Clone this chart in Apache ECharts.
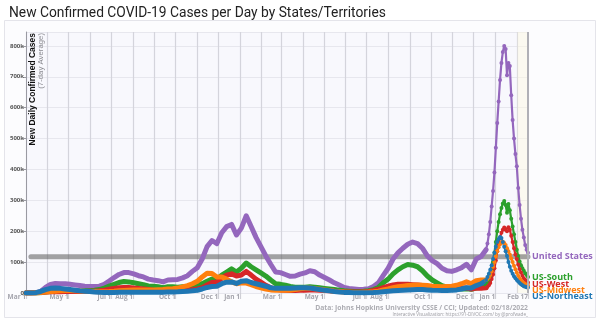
<!DOCTYPE html>
<html><head><meta charset="utf-8">
<script src="https://cdn.jsdelivr.net/npm/echarts@6/dist/echarts.min.js"></script>
<style>html,body{margin:0;padding:0;background:#fff}#c{width:600px;height:322px}</style>
</head><body><div id="c"></div>
<script>
// ---- data (thousands of cases, 7-day average) ----
// weekly samples: every 7 days from 2020-03-01 to 2021-12-19 (95 points)
const usWeekly = [0,0.1,0.5,5,18, 28,31,30,30, 28,26,24,22,21, 21,22,28,39, 50,60,66,66, 62,56,52,45,42, 40,36,42,43, 44,49,56,70, 82,110,150,170,160, 195,215,222,188,
  210,250,215,180,150, 120,93,68,66, 60,54,55,61, 65,72,69,58, 50,42,33,26,18, 15,13,11,12, 14,21,33,57, 80,110,130,145,158, 165,160,145,120, 105,95,80,72,70, 75,82,93,75, 110,118,140];
const southWeekly = [0,0,0.1,0.8,3, 5,6,6,6, 6,6,6,7,7.5, 9,11,16,22, 28,34,37,36, 33,30,27,23,22, 20,17,20,20, 19,20,21,24, 25,30,38,45,43, 58,68,78,68,
  80,97,85,75,65, 55,42,30,28, 25,21,19,19, 19,20,19,17, 15,13,11,9,7, 6,5,5,6, 7.5,11,18,33, 45,62,75,85,92, 90,85,72,55, 42,33,24,19,16, 14,13,14,12, 17,18,24];
const westWeekly = [0,0.1,0.5,1.5,3, 4,4,4,4.5, 4.5,4.5,4.5,5,5.5, 6,7,9,12, 15,17,18,18, 16,15,13,11,9, 8,7,7.5,7.5, 8,8.5,9.5,11, 13,17,26,34,36, 48,58,62,55,
  58,70,58,45,35, 25,17,12,10, 9,8,8,8.5, 9,9.5,9.5,9, 8,7,6,5,4, 3.5,3,3,3.5, 5,8,12,17, 22,26,28,28,28, 27,26,24,22, 19,17,16,15,15, 15,16,16,13, 16,15,17];
const midwestWeekly = [0,0,0.2,1.2,3.5, 5,6,7,8, 8,7.5,6.5,5.5,5, 4.5,4,4,4.5, 5.5,7,8,9, 9.5,9.5,9.5,9.5,10, 10.5,11,13,14, 16,20,24,30, 38,52,64,63,52, 52,45,36,30,
  33,32,27,21,17, 13,10,8.5,8.5, 8.5,9,11,14, 15,16,14,12, 10,8,6,4.5,3, 2.5,2,2,2.5, 3,4,6,10, 13,17,20,22,24, 25,26,25,24, 22,21,20,21,22, 25,30,36,30, 40,42,42];
const northeastWeekly = [0,0.1,1,5,11, 15,16,15,13, 11,9,7,6,5, 3.5,2.5,2,2, 2,2.2,2.5,2.5, 2.5,2.5,2.5,2.5,2.5, 2.5,2.8,3,3.5, 4,5,6,7, 9,13,18,21,22, 30,35,36,31,
  38,40,34,30,26, 22,17,15,15, 15,15,16,17, 17,16,14,11, 9,7,5,3.5,2, 1.5,1,0.8,0.8, 1,1.5,2.5,4, 5.5,7,8,9,10, 10.5,11,11,10, 9,8.5,8,8,9, 10,13,17,16, 24,30,40];
// recent samples: every 2 days from 2021-12-19 to 2022-02-17 (31 points)
const usTail = [140,160,190,230,280,330,390,470,550,620,690,745,780,800,790,705,745,735,640,560,500,450,410,340,285,240,205,180,155,140,130];
const southTail = [24,30,40,55,75,100,130,165,200,230,255,275,290,298,285,260,288,268,240,215,190,165,140,120,102,90,80,72,64,58,52];
const westTail = [17,20,25,32,45,60,80,105,135,160,180,195,205,212,205,200,213,205,185,165,145,125,110,92,78,66,56,48,42,38,34];
const midwestTail = [42,45,50,58,70,85,100,118,135,148,158,164,166,162,155,145,135,125,112,100,88,77,66,56,48,41,36,32,29,26,24];
const northeastTail = [42,52,62,75,90,110,130,150,165,175,181,178,165,150,135,120,100,85,72,62,54,48,42,37,32,28,25,22,20,19,18];
const seriesNames = ['United States','US-South','US-West','US-Midwest','US-Northeast'];
const refLineValue = 117;
const refLineDates = ['2020-03-08','2022-02-17'];
const labelDates = ['2020-03-01','2020-05-01','2020-07-01','2020-08-01','2020-10-01','2020-12-01','2021-01-01','2021-03-01','2021-05-01','2021-07-01','2021-08-01','2021-10-01','2021-12-01','2022-01-01','2022-02-17'];
const labelTexts = ['Mar 1','May 1','Jul 1','Aug 1','Oct 1','Dec 1','Jan 1','Mar 1','May 1','Jul 1','Aug 1','Oct 1','Dec 1','Jan 1','Feb 17'];

// ---- build ----
const DAY = 864e5;
function fmt(t){ return new Date(t).toISOString().slice(0,10); }
const startT = Date.UTC(2020,2,1), endT = Date.UTC(2022,1,17);
const dayCats = [];
for (let t = startT; t <= endT; t += DAY) dayCats.push(fmt(t));
const weekDates = []; for (let i = 0; i < usWeekly.length; i++) weekDates.push(fmt(startT + i*7*DAY));
const tailDates = []; for (let i = 0; i < usTail.length; i++) tailDates.push(fmt(Date.UTC(2021,11,19) + i*2*DAY));
const labelMap = {}; labelDates.forEach((d,i)=>labelMap[d]=labelTexts[i]);

const colors = ['#9467bd','#2ca02c','#d62728','#ff7f0e','#1f77b4'];
const weeklies = [usWeekly, southWeekly, westWeekly, midwestWeekly, northeastWeekly];
const tails = [usTail, southTail, westTail, midwestTail, northeastTail];
const labelDy = [4, 0, 1.5, 5, 9];

const series = [{
  type:'line', silent:true, symbol:'none', animation:false,
  data: refLineDates.map(d=>[d, refLineValue]),
  lineStyle:{color:'rgba(90,90,90,0.55)', width:5, cap:'round'},
  markLine:{silent:true, symbol:'none', label:{show:false}, lineStyle:{color:'#b0b0b6', width:2, type:'solid'},
    data:[{xAxis:'2022-02-17'}]},
  markArea:{silent:true, itemStyle:{color:'rgba(255,250,225,0.45)'}, data:[[{xAxis:'2022-02-02'},{xAxis:'2022-02-17'}]]}
}];
seriesNames.forEach((name, k)=>{
  series.push({
    type:'line', name, symbol:'none', animation:false,
    data: weekDates.map((d,i)=>[d, weeklies[k][i]]),
    lineStyle:{color:colors[k], width:5, join:'round', cap:'round'},
    itemStyle:{color:colors[k]}
  });
  series.push({
    type:'line', name, symbol:'circle', symbolSize:4, showSymbol:true, showAllSymbol:true, animation:false,
    data: tailDates.map((d,i)=>[d, tails[k][i]]),
    lineStyle:{color:colors[k], width:2.2, join:'round'},
    itemStyle:{color:colors[k]},
    endLabel:{show:true, formatter:name, color:colors[k], fontWeight:'bold', fontSize:9,
      fontFamily:'Open Sans', distance:4, offset:[0, labelDy[k]]}
  });
});

const chart = echarts.init(document.getElementById('c'));
chart.setOption({
  animation:false,
  backgroundColor:'#ffffff',
  title:{text:'New Confirmed COVID-19 Cases per Day by States/Territories', left:4, top:2,
    textStyle:{fontSize:13.8, fontWeight:'normal', color:'#222', fontFamily:'Roboto'}},
  grid:{left:26, right:72, top:32, bottom:29, show:true, backgroundColor:'#f8f8fd', borderWidth:0},
  xAxis:{type:'category', data:dayCats, boundaryGap:false,
    axisLine:{show:false},
    axisTick:{show:true, length:6, lineStyle:{color:'#cfcfd6', width:1.2},
      interval:(i,v)=>labelMap[v]!==undefined},
    axisLabel:{show:true, interval:(i,v)=>labelMap[v]!==undefined, formatter:v=>labelMap[v]||'',
      align:'right', margin:1, fontSize:6.5, color:'#a5a5ad', fontWeight:'bold', fontFamily:'Open Sans'},
    splitLine:{show:true, interval:(i,v)=>v.slice(8)==='01', lineStyle:{color:'#d4d4dc', width:1.2}}
  },
  yAxis:{type:'value', min:0, max:845, interval:100,
    axisLine:{show:true, lineStyle:{color:'#9a9aa2', width:1}},
    axisTick:{show:true, length:3, lineStyle:{color:'#9a9aa2'}},
    axisLabel:{fontSize:6, color:'#555', margin:2, showMaxLabel:false, fontFamily:'Open Sans', fontWeight:'bold',
      formatter:v=> v===0 ? '0' : v + 'k'},
    splitLine:{show:true, lineStyle:{color:'#e7e7ee', width:1}}
  },
  graphic:[
    {type:'rect', z:-10, shape:{x:4.5, y:20.5, width:591, height:297}, style:{fill:'#fcfcfe', stroke:'#e4e4ea', lineWidth:1}},
    {type:'text', z:10, x:33, y:33, rotation:Math.PI/2,
      style:{text:'New Daily Confirmed Cases', align:'right', verticalAlign:'middle', fontSize:8.5, fontWeight:'bold', fill:'#111', fontFamily:'Liberation Sans'}},
    {type:'text', z:10, x:41, y:33, rotation:Math.PI/2,
      style:{text:'(7-day Average)', align:'right', verticalAlign:'middle', fontSize:7.8, fill:'#8a8a90', fontFamily:'Liberation Sans'}},
    {type:'text', z:10, x:528, y:308,
      style:{text:'Data: Johns Hopkins University CSSE / CCI; Updated: 02/18/2022', align:'right', verticalAlign:'middle', fontSize:6.8, fontWeight:'bold', fill:'#adadb3', fontFamily:'Open Sans'}},
    {type:'text', z:10, x:528, y:314.5,
      style:{text:'Interactive Visualization: https://91-DIVOC.com/ by @profwade_', align:'right', verticalAlign:'middle', fontSize:4.6, fill:'#9a9aa0', fontFamily:'Open Sans'}}
  ],
  series
});
</script></body></html>
